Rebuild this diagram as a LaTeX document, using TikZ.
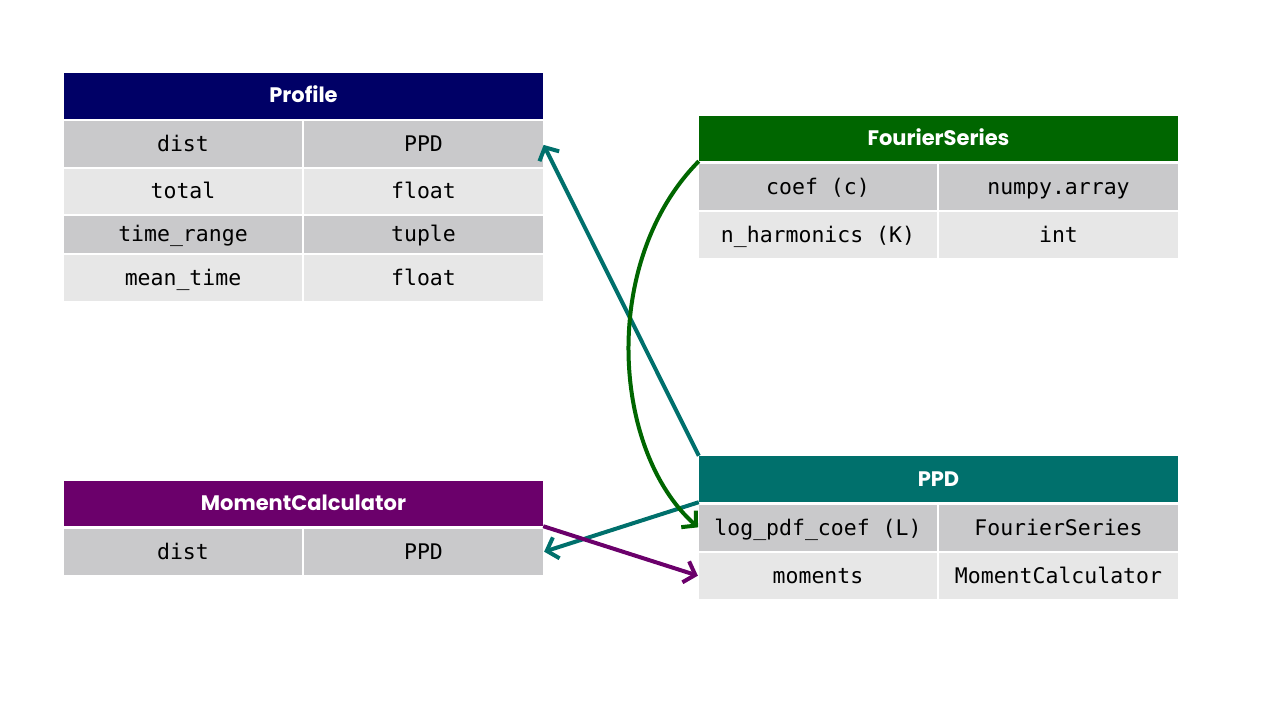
\documentclass[tikz,border=0pt]{standalone}
\usepackage{fontspec}
\usepackage{xcolor}
\usepackage{tikz}
\usetikzlibrary{arrows.meta, positioning}
\newfontfamily\hdrfont{Poppins}
\newfontfamily\cellfont{DejaVu Sans Mono}
\definecolor{profblue}{RGB}{0,0,102}
\definecolor{fourgreen}{RGB}{0,102,0}
\definecolor{ppdteal}{RGB}{0,112,108}
\definecolor{momplum}{RGB}{107,0,107}
\definecolor{rowdark}{RGB}{201,201,203}
\definecolor{rowlight}{RGB}{231,231,231}

\begin{document}
\begin{tikzpicture}[x=1pt, y=-1pt,
  hdr/.style={inner sep=0pt, minimum width=479pt, minimum height=46pt, text=white,
    text height=14pt, text depth=0pt,
    font=\hdrfont\bfseries\fontsize{21}{24}\selectfont},
  cell/.style={inner sep=0pt, minimum height=46pt, text=black,
    text height=18pt, text depth=4pt,
    font=\cellfont\fontsize{21.5}{24}\selectfont},
  keycell/.style={cell, minimum width=238pt},
  typecell/.style={cell, minimum width=239pt},
  link/.style={line width=4pt, -{Straight Barb[length=10pt,width=22pt]}, shorten >=1pt}]
\useasboundingbox (0,0) rectangle (1280,720);

% Profile
\node[hdr, fill=profblue] (prof) at (303.5,95.5) {Profile};
\node[keycell, fill=rowdark] (prof-dist) at (183,144) {dist};
\node[typecell, fill=rowdark] (prof-dist-t) at (423.5,144) {PPD};
\node[keycell, fill=rowlight, minimum height=45pt] (prof-total) at (183,191.5) {total};
\node[typecell, fill=rowlight, minimum height=45pt] (prof-total-t) at (423.5,191.5) {float};
\node[keycell, fill=rowdark, minimum height=37pt] (prof-range) at (183,234.5) {time\_range};
\node[typecell, fill=rowdark, minimum height=37pt] (prof-range-t) at (423.5,234.5) {tuple};
\node[keycell, fill=rowlight] (prof-mean) at (183,278) {mean\_time};
\node[typecell, fill=rowlight] (prof-mean-t) at (423.5,278) {float};

% FourierSeries
\node[hdr, fill=fourgreen, minimum height=45pt] (fs) at (938.5,138.5) {FourierSeries};
\node[keycell, fill=rowdark] (fs-coef) at (818,187) {coef (c)};
\node[typecell, fill=rowdark] (fs-coef-t) at (1058.5,187) {numpy.array};
\node[keycell, fill=rowlight] (fs-harm) at (818,235) {n\_harmonics (K)};
\node[typecell, fill=rowlight] (fs-harm-t) at (1058.5,235) {int};

% MomentCalculator
\node[hdr, fill=momplum, minimum height=45pt] (mc) at (303.5,503.5) {MomentCalculator};
\node[keycell, fill=rowdark] (mc-dist) at (183,552) {dist};
\node[typecell, fill=rowdark] (mc-dist-t) at (423.5,552) {PPD};

% PPD
\node[hdr, fill=ppdteal] (ppd) at (938.5,479) {PPD};
\node[keycell, fill=rowdark] (ppd-coef) at (818,528) {log\_pdf\_coef (L)};
\node[typecell, fill=rowdark] (ppd-coef-t) at (1058.5,528) {FourierSeries};
\node[keycell, fill=rowlight] (ppd-mom) at (818,576) {moments};
\node[typecell, fill=rowlight] (ppd-mom-t) at (1058.5,576) {MomentCalculator};

% links
\draw[link, ppdteal] (ppd.north west) -- (prof-dist-t.east);
\draw[link, ppdteal] (ppd.south west) -- (mc-dist-t.east);
\draw[link, fourgreen] (fs.south west) .. controls +(-99,100) and +(-87,-77) .. (ppd-coef.west);
\draw[link, momplum] (mc.south east) -- (ppd-mom.west);
\end{tikzpicture}
\end{document}
